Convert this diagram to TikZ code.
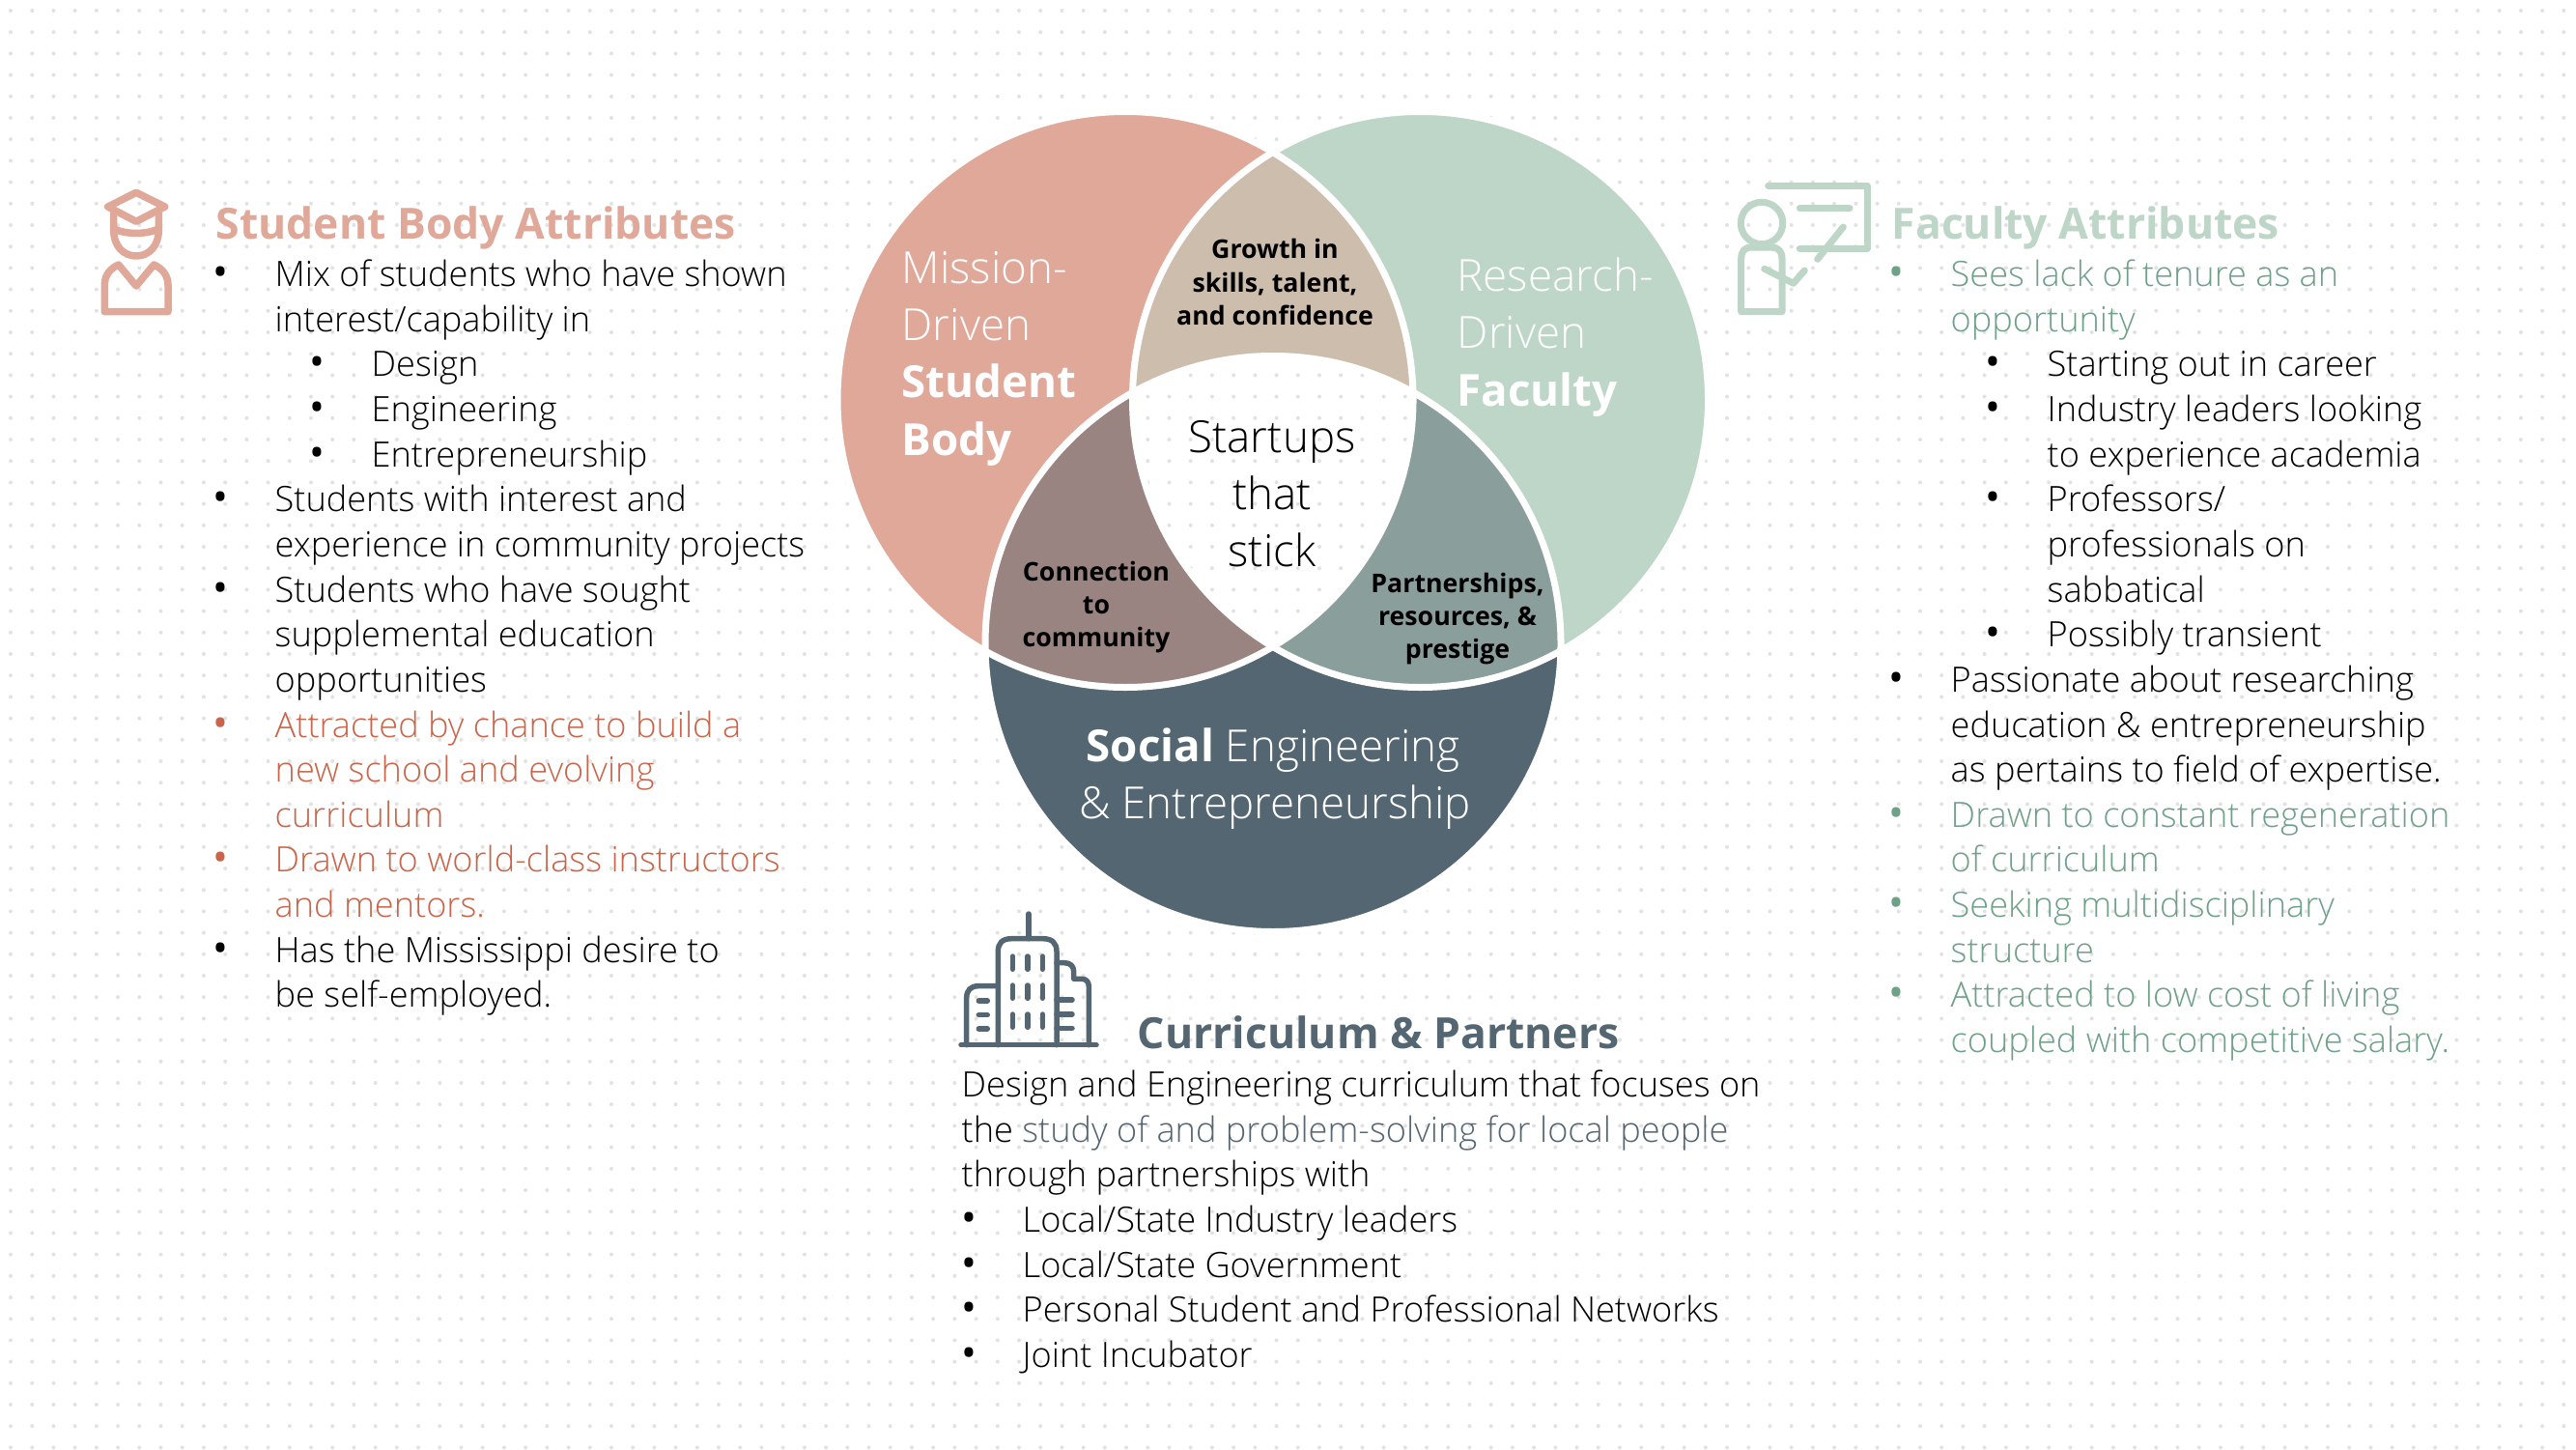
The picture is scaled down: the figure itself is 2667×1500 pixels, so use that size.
\documentclass[tikz,border=0pt]{standalone}
\usepackage{fontspec}
\setmainfont{Open Sans Light}
\newfontfamily\heavyfam{Open Sans}
\newcommand{\heavy}{\heavyfam\bfseries}
\definecolor{salmon}{HTML}{E0A899}
\definecolor{sage}{HTML}{BDD6C8}
\definecolor{slate}{HTML}{546672}
\definecolor{tan}{HTML}{CDBDAD}
\definecolor{mauve}{HTML}{9A8482}
\definecolor{teal}{HTML}{8A9F9C}
\definecolor{rust}{HTML}{C8654A}
\definecolor{leaf}{HTML}{6FA088}
\definecolor{griddot}{HTML}{E2E2E2}
\tikzset{
  listline/.style={anchor=base west, inner sep=0pt, font=\fontsize{10.28}{12}\selectfont},
  listdot/.style={anchor=base, inner sep=0pt, font=\fontsize{12}{14}\heavyfam},
  headline/.style={anchor=base west, inner sep=0pt, font=\fontsize{12.65}{15}\heavy},
  setlabel/.style={anchor=base west, inner sep=0pt, text=white, font=\fontsize{13}{15}\selectfont},
  lenslabel/.style={anchor=base, inner sep=0pt, font=\fontsize{7.6}{9}\heavy},
  midlabel/.style={anchor=base, inner sep=0pt, font=\fontsize{13}{15}\selectfont},
  iconline/.style={line width=#1, line cap=round, line join=round},
}
\begin{document}
\begin{tikzpicture}[x=0.01cm, y=-0.01cm]
  \useasboundingbox (0,0) rectangle (2667,1500);
  \fill[white] (0,0) rectangle (2667,1500);
  \def\setL{(1165,413.5) circle (298)}
  \def\setR{(1470.5,413.5) circle (298)}
  \def\setB{(1318,666.5) circle (298)}
  \def\dotgrid{\foreach \yy in {0,...,67} {
    \draw[griddot, line width=0.04cm, line cap=round, dash pattern=on 0pt off 0.222cm]
      (11,{11+22.2*\yy}) -- (2667,{11+22.2*\yy});}}
  % dotted paper
  \dotgrid
  % the three sets
  \fill[salmon] \setL;
  \fill[sage] \setR;
  \fill[slate] \setB;
  % pairwise overlaps
  \begin{scope}
    \clip \setL;
    \fill[tan] \setR;
    \fill[mauve] \setB;
  \end{scope}
  \begin{scope}
    \clip \setR;
    \fill[teal] \setB;
  \end{scope}
  % middle stays paper
  \begin{scope}
    \clip \setL;
    \clip \setR;
    \clip \setB;
    \fill[white] (800,100) rectangle (1800,1100);
    \dotgrid
  \end{scope}
  % white seams
  \draw[white, line width=0.07cm] \setL;
  \draw[white, line width=0.07cm] \setR;
  \draw[white, line width=0.07cm] \setB;
  % set labels
  \node[setlabel] (m1) at (933,293) {Mission-};
  \node[setlabel] (m2) at (933,352.5) {Driven};
  \node[setlabel] (m3) at (933,411.5) {\heavy Student};
  \node[setlabel] (m4) at (933,471) {\heavy Body};
  \node[setlabel] (r1) at (1508,301) {Research-};
  \node[setlabel] (r2) at (1508,360.5) {Driven};
  \node[setlabel] (r3) at (1508,420) {\heavy Faculty};
  \node[setlabel, anchor=base] (e1) at (1318,788) {{\heavy Social} Engineering};
  \node[setlabel, anchor=base] (e2) at (1320,847) {\& Entrepreneurship};
  % overlap labels
  \node[midlabel] (c1) at (1317,468) {Startups};
  \node[midlabel] (c2) at (1317,527) {that};
  \node[midlabel] (c3) at (1317,586) {stick};
  \node[lenslabel] (g1) at (1320,268) {Growth in};
  \node[lenslabel] (g2) at (1320,302) {skills, talent,};
  \node[lenslabel] (g3) at (1320,336) {and confidence};
  \node[lenslabel] (n1) at (1135,601) {Connection};
  \node[lenslabel] (n2) at (1135,635) {to};
  \node[lenslabel] (n3) at (1135,669.5) {community};
  \node[lenslabel] (p1) at (1509,613) {Partnerships,};
  \node[lenslabel] (p2) at (1509,647) {resources, \&};
  \node[lenslabel] (p3) at (1509,681) {prestige};
  % student body list
  \node[headline, text=salmon] (shead) at (223,247) {Student Body Attributes};
  \foreach \row/\xx/\col/\txt in {
    0/284/black/{Mix of students who have shown},
    1/284/black/{interest/capability in},
    2/384/black/{Design},
    3/384/black/{Engineering},
    4/384/black/{Entrepreneurship},
    5/284/black/{Students with interest and},
    6/284/black/{experience in community projects},
    7/284/black/{Students who have sought},
    8/284/black/{supplemental education},
    9/284/black/{opportunities},
    10/284/rust/{Attracted by chance to build a},
    11/284/rust/{new school and evolving},
    12/284/rust/{curriculum},
    13/284/rust/{Drawn to world-class instructors},
    14/284/rust/{and mentors.},
    15/284/black/{Has the Mississippi desire to},
    16/284/black/{be self-employed.}}
    \node[listline, text=\col] (s\row) at (\xx,{296.5+46.65*\row}) {\txt};
  \foreach \row/\xx/\col in {0/228/black,2/328/black,3/328/black,4/328/black,5/228/black,7/228/black,10/228/rust,13/228/rust,15/228/black}
    \node[listdot, text=\col] (sb\row) at (\xx,{296.5+46.65*\row}) {•};
  % faculty list
  \node[headline, text=sage] (fhead) at (1958,247) {Faculty Attributes};
  \foreach \row/\xx/\col/\txt in {
    0/2019/leaf/{Sees lack of tenure as an},
    1/2019/leaf/{opportunity},
    2/2119/black/{Starting out in career},
    3/2119/black/{Industry leaders looking},
    4/2119/black/{to experience academia},
    5/2119/black/{Professors/},
    6/2119/black/{professionals on},
    7/2119/black/{sabbatical},
    8/2119/black/{Possibly transient},
    9/2019/black/{Passionate about researching},
    10/2019/black/{education \& entrepreneurship},
    11/2019/black/{as pertains to field of expertise.},
    12/2019/leaf/{Drawn to constant regeneration},
    13/2019/leaf/{of curriculum},
    14/2019/leaf/{Seeking multidisciplinary},
    15/2019/leaf/{structure},
    16/2019/leaf/{Attracted to low cost of living},
    17/2019/leaf/{coupled with competitive salary.}}
    \node[listline, text=\col] (f\row) at (\xx,{296.5+46.65*\row}) {\txt};
  \foreach \row/\xx/\col in {0/1963/leaf,2/2063/black,3/2063/black,5/2063/black,8/2063/black,9/1963/black,12/1963/leaf,14/1963/leaf,16/1963/leaf}
    \node[listdot, text=\col] (fb\row) at (\xx,{296.5+46.65*\row}) {•};
  % curriculum block
  \node[headline, text=slate] (chead) at (1177,1085) {Curriculum \& Partners};
  \foreach \row/\xx/\txt in {
    0/995/{Design and Engineering curriculum that focuses on},
    1/995/{the {\color{slate}study of and problem-solving for local people}},
    2/995/{through partnerships with},
    3/1058/{Local/State Industry leaders},
    4/1058/{Local/State Government},
    5/1058/{Personal Student and Professional Networks},
    6/1058/{Joint Incubator}}
    \node[listline] (k\row) at (\xx,{1135.5+46.65*\row}) {\txt};
  \foreach \row in {3,...,6}
    \node[listdot] (kb\row) at (1003,{1135.5+46.65*\row}) {•};
  % student icon
  \begin{scope}[salmon, iconline=0.075cm]
    \draw (141,199.3) -- (170.7,214) -- (141,229.3) -- (111.7,214) -- cycle;
    \draw (117.7,220) -- (117.7,238) .. controls (117.7,255) and (128,265) .. (141,265)
      .. controls (154,265) and (164.3,255) .. (164.3,238) -- (164.3,220);
    \draw (117.7,236.7) .. controls (130,243) and (152,243) .. (164.3,236.7);
    \draw (108.3,322.7) -- (108.3,295) .. controls (108.3,285) and (114,278) .. (122.7,274)
      -- (141,296) -- (159.3,274) .. controls (168,278) and (174,285) .. (174,295)
      -- (174,322.7) -- cycle;
  \end{scope}
  % faculty icon
  \begin{scope}[sage, iconline=0.07cm]
    \draw (1824,231) circle (21.7);
    \draw (1802.7,322.7) -- (1802.7,268) .. controls (1802.7,260) and (1806,256) .. (1814,256)
      -- (1834,256) .. controls (1841,256) and (1845,260) .. (1845,268) -- (1845,322.7) -- cycle;
    \draw (1830.7,192.3) -- (1933.3,192.3) -- (1933.3,257.3) -- (1863.3,257.3);
    \draw (1863.3,215.7) -- (1915,215.7);
    \draw (1908.3,235) -- (1881.7,268.3);
    \draw (1826.7,278.3) -- (1856.7,293.3) -- (1868.3,280);
  \end{scope}
  % building icon
  \begin{scope}[slate, iconline=0.055cm]
    \draw (995,1081.7) -- (1135,1081.7);
    \draw (1065,946) -- (1065,971.7);
    \draw (1033.3,1081.7) -- (1033.3,985) .. controls (1033.3,976) and (1038,971.7) .. (1047,971.7)
      -- (1080,971.7) .. controls (1089,971.7) and (1094,976) .. (1094,985) -- (1094,1081.7);
    \draw (1033.3,1020.7) -- (1013,1020.7) .. controls (1005,1020.7) and (1000.7,1025) .. (1000.7,1033) -- (1000.7,1081.7);
    \draw (1094,996.7) -- (1102,996.7) .. controls (1108,996.7) and (1111.7,1000) .. (1111.7,1006)
      -- (1111.7,1013.3) -- (1120,1013.3) .. controls (1124,1013.3) and (1127.3,1016) .. (1127.3,1021) -- (1127.3,1081.7);
    \foreach \xx in {1048.3,1064,1079.3}
      \foreach \yy in {990,1020,1050}
        \draw (\xx,\yy) -- (\xx,\yy+13.3);
    \foreach \yy in {1036,1050.7,1065}
      \draw (1013.3,\yy) -- (1022.3,\yy);
    \foreach \yy in {1035,1050,1064.3}
      \draw (1094,\yy) -- (1110,\yy);
  \end{scope}
\end{tikzpicture}
\end{document}
